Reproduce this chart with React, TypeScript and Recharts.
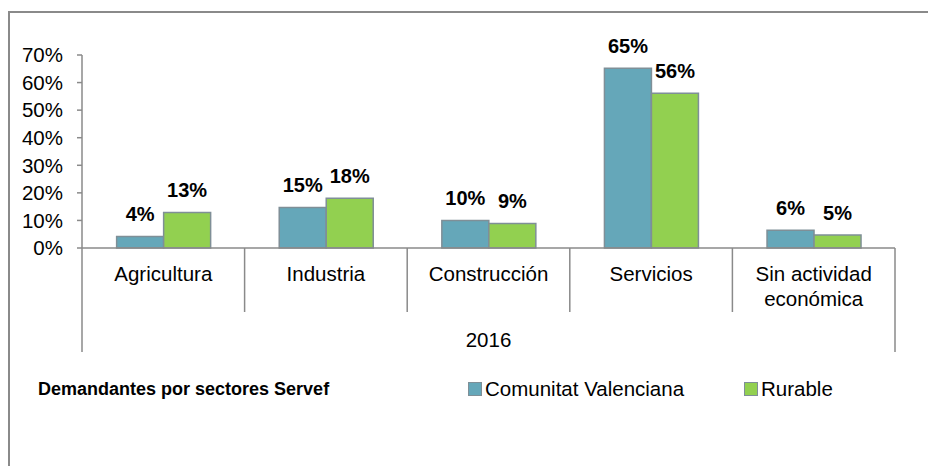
import { Bar, BarChart, LabelList, Legend, XAxis, YAxis } from "recharts";

const sectors = ["Agricultura", "Industria", "Construcción", "Servicios", "Sin actividad\neconómica"];
const comunitatValenciana = [4.2, 14.7, 10.0, 65.2, 6.4];
const rurable = [12.9, 18.0, 8.9, 56.1, 4.7];
const yTicks = [0, 10, 20, 30, 40, 50, 60, 70];
const yearLabel = "2016";
const legendTitle = "Demandantes por sectores Servef";

const BLUE = "#65A7B9";
const GREEN = "#92D050";
const BAR_EDGE = "#7F8F97";
const LINE = "#8A8A8A";
const FONT = "'Liberation Sans', Arial, sans-serif";

const W = 928;
const H = 455;
const MARGIN = { top: 44, right: 41, left: 0, bottom: 59 };
const Y_AXIS_W = 74;
const BAND = (W - Y_AXIS_W - MARGIN.right) / sectors.length;

const data = sectors.map((name, i) => ({
  name,
  cv: comunitatValenciana[i],
  rurable: rurable[i],
}));

// category tick with Excel-style divider lines and the "2016" group row
function SectorTick(props: any) {
  const { x, y, payload, index } = props;
  const lines = String(payload.value).split("\n");
  const last = index === sectors.length - 1;
  return (
    <g>
      <line
        x1={x - BAND / 2}
        x2={x - BAND / 2}
        y1={y}
        y2={y + (index === 0 ? 104 : 64)}
        stroke={LINE}
        strokeWidth={1.5}
      />
      {last && (
        <line x1={x + BAND / 2} x2={x + BAND / 2} y1={y} y2={y + 104} stroke={LINE} strokeWidth={1.5} />
      )}
      {lines.map((t, i) => (
        <text
          key={i}
          x={x}
          y={y + 25 + i * 25}
          textAnchor="middle"
          dominantBaseline="central"
          fontSize={20.5}
          fontFamily={FONT}
          fill="#000"
        >
          {t}
        </text>
      ))}
      {index === Math.floor(sectors.length / 2) && (
        <text
          x={x}
          y={y + 91}
          textAnchor="middle"
          dominantBaseline="central"
          fontSize={20.5}
          fontFamily={FONT}
          fill="#000"
        >
          {yearLabel}
        </text>
      )}
    </g>
  );
}

function LegendBox() {
  const swatch = (color: string) => (
    <span
      style={{
        display: "inline-block",
        width: 12,
        height: 12,
        background: color,
        border: `1px solid ${BAR_EDGE}`,
        marginRight: 3,
      }}
    />
  );
  return (
    <div style={{ position: "relative", height: 36, width: 880, fontFamily: FONT, color: "#000" }}>
      <span
        style={{ position: "absolute", left: 30, top: 0, lineHeight: "36px", fontSize: 18, fontWeight: "bold" }}
      >
        {legendTitle}
      </span>
      <span style={{ position: "absolute", left: 460, top: 0, lineHeight: "36px", fontSize: 20.5, display: "flex", alignItems: "center" }}>
        {swatch(BLUE)}
        Comunitat Valenciana
      </span>
      <span style={{ position: "absolute", left: 736, top: 0, lineHeight: "36px", fontSize: 20.5, display: "flex", alignItems: "center" }}>
        {swatch(GREEN)}
        Rurable
      </span>
    </div>
  );
}

export default function App() {
  return (
    <div style={{ paddingTop: 3 }}>
      <div
        style={{
          position: "relative",
          width: W - 2,
          height: H - 2,
          borderTop: `2px solid ${LINE}`,
          borderLeft: `2px solid ${LINE}`,
        }}
      >
        <div style={{ position: "absolute", left: -2, top: -2 }}>
          <BarChart
            width={W}
            height={H}
            data={data}
            margin={MARGIN}
            barCategoryGap="21.3%"
            barGap={0}
            style={{ fontFamily: FONT }}
          >
            <XAxis
              dataKey="name"
              interval={0}
              tickLine={false}
              tickSize={0}
              tickMargin={0}
              height={123}
              axisLine={{ stroke: LINE, strokeWidth: 1.5 }}
              tick={<SectorTick />}
            />
            <YAxis
              width={Y_AXIS_W}
              domain={[0, 70]}
              ticks={yTicks}
              interval={0}
              tickFormatter={(v: number) => `${v}%`}
              tickSize={5}
              tickMargin={14}
              axisLine={{ stroke: LINE, strokeWidth: 1.5 }}
              tickLine={{ stroke: LINE, strokeWidth: 1.5 }}
              tick={{ fontSize: 20.5, fill: "#000", fontFamily: FONT }}
            />
            <Legend verticalAlign="bottom" align="left" content={<LegendBox />} />
            <Bar dataKey="cv" name="Comunitat Valenciana" fill={BLUE} stroke={BAR_EDGE} strokeWidth={1.5} isAnimationActive={false}>
              <LabelList
                dataKey="cv"
                position="top"
                offset={15}
                formatter={(v: any) => `${Math.round(v)}%`}
                style={{ fontSize: 20, fontWeight: "bold", fill: "#000", fontFamily: FONT }}
              />
            </Bar>
            <Bar dataKey="rurable" name="Rurable" fill={GREEN} stroke={BAR_EDGE} strokeWidth={1.5} isAnimationActive={false}>
              <LabelList
                dataKey="rurable"
                position="top"
                offset={15}
                formatter={(v: any) => `${Math.round(v)}%`}
                style={{ fontSize: 20, fontWeight: "bold", fill: "#000", fontFamily: FONT }}
              />
            </Bar>
          </BarChart>
        </div>
      </div>
    </div>
  );
}
